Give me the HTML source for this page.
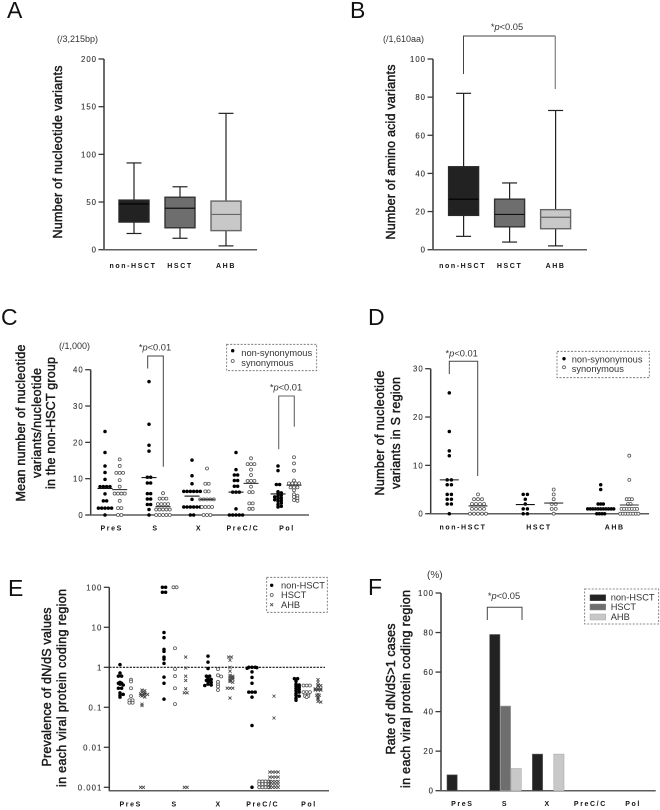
<!DOCTYPE html>
<html lang="en">
<head>
<meta charset="utf-8">
<title>Viral variant analysis figure</title>
<style>
  html, body { margin: 0; padding: 0; background: #fff; }
  svg { display: block; filter: blur(0.3px); }
  text { font-family: "Liberation Sans", sans-serif; }
  .letter { font-size: 23px; fill: #111; }
  .title { font-size: 12.5px; fill: #1a1a1a; stroke: #1a1a1a; stroke-width: 0.45px; text-anchor: middle; }
  .note { font-size: 9px; fill: #333; }
  .pval { font-size: 9.3px; fill: #333; text-anchor: middle; }
  .legend-text { font-size: 9.3px; fill: #333; }
  .legend-box { fill: none; stroke: #666; stroke-width: 0.8px; stroke-dasharray: 2 1.5; }
  .bracket { fill: none; stroke: #444; stroke-width: 1px; }
</style>
</head>
<body>
<svg id="fig" width="660" height="810" viewBox="0 0 660 810" xmlns="http://www.w3.org/2000/svg">
  <rect width="660" height="810" fill="#fff"/>

  <text class="letter" x="7" y="18">A</text>
  <text class="letter" x="350" y="18">B</text>
  <text class="letter" x="1" y="325">C</text>
  <text class="letter" x="368" y="325">D</text>
  <text class="letter" x="8" y="596">E</text>
  <text class="letter" x="368" y="595">F</text>

  <text class="note" x="57" y="42">(/3,215bp)</text>
  <text class="note" x="383" y="42">(/1,610aa)</text>
  <text class="note" x="59" y="349">(/1,000)</text>
  <text class="note" x="427" y="578" style="font-size:10px">(%)</text>

  <text class="title" transform="translate(62,152) rotate(-90)" textLength="173">Number of nucleotide variants</text>
  <text class="title" transform="translate(395,152) rotate(-90)" textLength="175">Number of amino acid variants</text>

  <text class="title" transform="translate(25,423) rotate(-90)" textLength="157">Mean number of nucleotide</text>
  <text class="title" transform="translate(41,423) rotate(-90)" textLength="110">variants/nucleotide</text>
  <text class="title" transform="translate(55,423) rotate(-90)" textLength="132">in the non-HSCT group</text>

  <text class="title" transform="translate(384,433) rotate(-90)" textLength="125">Number of nucleotide</text>
  <text class="title" transform="translate(400,433) rotate(-90)" textLength="112">variants in S region</text>

  <text class="title" transform="translate(51,687) rotate(-90)" textLength="159">Prevalence of dN/dS values</text>
  <text class="title" transform="translate(66,688) rotate(-90)" textLength="198">in each viral protein coding region</text>

  <text class="title" transform="translate(395,689) rotate(-90)" textLength="131">Rate of dN/dS&gt;1 cases</text>
  <text class="title" transform="translate(410,689) rotate(-90)" textLength="198">in each viral protein coding region</text>

  <path class="bracket" d="M463.5 74V36H555.3"/>
  <path d="M555.3 36V89" fill="none" stroke="#888" stroke-width="1.3"/>
  <text class="pval" x="507" y="30">*<tspan font-style="italic">p</tspan>&lt;0.05</text>

  <path class="bracket" d="M147.7 368.5V356H163.3V466.7"/>
  <text class="pval" x="155" y="350.3">*<tspan font-style="italic">p</tspan>&lt;0.01</text>
  <path d="M278.7 449.3V396H294.3V426.7" fill="none" stroke="#666" stroke-width="1.1"/>
  <text class="pval" x="286" y="390.7">*<tspan font-style="italic">p</tspan>&lt;0.01</text>

  <path class="bracket" d="M449.3 374V361.3H477.7V476"/>
  <text class="pval" x="461.7" y="356.7">*<tspan font-style="italic">p</tspan>&lt;0.01</text>

  <path class="bracket" d="M487.3 620V607.3H522V620"/>
  <text class="pval" x="504" y="599">*<tspan font-style="italic">p</tspan>&lt;0.05</text>

  <g>
    <rect class="legend-box" x="226.7" y="344.3" width="90" height="26.4"/>
    <circle cx="232.7" cy="350.7" r="1.7" fill="#000"/>
    <circle cx="232.7" cy="361" r="1.5" fill="#fff" stroke="#555" stroke-width="0.8"/>
    <text class="legend-text" x="241.3" y="356">non-synonymous</text>
    <text class="legend-text" x="241.3" y="366">synonymous</text>
  </g>
  <g>
    <rect class="legend-box" x="557" y="351.3" width="92.3" height="26.4"/>
    <circle cx="564" cy="358.7" r="1.7" fill="#000"/>
    <circle cx="564" cy="367.3" r="1.5" fill="#fff" stroke="#555" stroke-width="0.8"/>
    <text class="legend-text" x="571.7" y="362.3">non-synonymous</text>
    <text class="legend-text" x="571.7" y="372">synonymous</text>
  </g>
  <g>
    <rect class="legend-box" x="266.7" y="577.3" width="60.6" height="35"/>
    <circle cx="271.7" cy="585.3" r="1.7" fill="#000"/>
    <circle cx="271.7" cy="595" r="1.5" fill="#fff" stroke="#555" stroke-width="0.8"/>
    <path d="M270.2 603.2l3 3m0-3l-3 3" stroke="#444" stroke-width="0.8"/>
    <text class="legend-text" x="281" y="588.3">non-HSCT</text>
    <text class="legend-text" x="281" y="598">HSCT</text>
    <text class="legend-text" x="281" y="608">AHB</text>
  </g>
  <g>
    <rect class="legend-box" x="584.7" y="589" width="74" height="35"/>
    <rect x="590" y="594.7" width="15.7" height="6" fill="#222" stroke="#555" stroke-width="0.5"/>
    <rect x="590" y="604" width="15.7" height="6" fill="#6e6e6e" stroke="#888" stroke-width="0.5"/>
    <rect x="590" y="614" width="15.7" height="6" fill="#c8c8c8" stroke="#aaa" stroke-width="0.5"/>
    <text class="legend-text" x="610.7" y="600.7">non-HSCT</text>
    <text class="legend-text" x="610.7" y="610">HSCT</text>
    <text class="legend-text" x="610.7" y="620">AHB</text>
  </g>

  <g id="plots"></g>
</svg>

<script>
// ---------- Panels A and B: box plots ----------
const boxCategories = ['non-HSCT', 'HSCT', 'AHB'];
const ticksA = [0, 50, 100, 150, 200];
const aMin = [17, 12, 4];
const aQ1 = [29, 23, 20];
const aMedian = [48, 43.5, 37];
const aQ3 = [52, 55, 51];
const aMax = [91, 66, 143];

const ticksB = [0, 20, 40, 60, 80, 100];
const bMin = [7, 4, 2];
const bQ1 = [18, 12, 11];
const bMedian = [26.5, 18.5, 17];
const bQ3 = [43.5, 26.5, 21];
const bMax = [82, 35, 73];

// ---------- Panel C: variants per region ----------
const regions = ['PreS', 'S', 'X', 'PreC/C', 'Pol'];
const ticksC = [0, 10, 20, 30, 40];
const cNonPreS = [23, 17.2, 13.5, 11.7, 9.8, 7.8, 7.8, 7.8, 7.8, 5.8, 3.9, 3.9, 1.9, 1.9, 1.9, 1.9, 1.9, 0];
const cNonS = [36.7, 25, 19.2, 17.6, 10.4, 10.4, 8.8, 8.8, 5.9, 5.9, 4.4, 4.4, 2.9, 2.9, 1.5, 0];
const cNonX = [15.1, 10.8, 8.6, 6.5, 6.5, 6.5, 6.5, 6.5, 6.5, 4.3, 2.2, 2.2, 2.2, 2.2, 2.2, 2.2, 0, 0];
const cNonPreC = [17.2, 12.5, 11, 11, 9.5, 9.5, 7.9, 7.9, 6.3, 6.3, 6.3, 1.7, 0, 0, 0, 0, 0];
const cNonPol = [13.5, 12.2, 8.4, 8.4, 6.4, 6.1, 5.8, 5.5, 5.2, 5, 4.7, 4.5, 4.2, 4, 3.8, 3.3, 2.9, 2.4, 2.2];
const cSynPreS = [15.3, 13.5, 11.6, 11.6, 11.6, 9.6, 7.8, 5.9, 5.9, 5.9, 5.9, 3.9, 1.9, 1.9, 0, 0];
const cSynS = [6, 4.5, 4.5, 4.5, 3, 3, 3, 3, 1.5, 1.5, 1.5, 1.5, 1.5, 0, 0, 0, 0, 0];
const cSynX = [12.8, 8.6, 8.6, 6.5, 6.5, 4.3, 4.3, 4.3, 4.3, 4.3, 2.2, 2.2, 2.2, 2.2, 0, 0, 0];
const cSynPreC = [15.6, 14, 14, 14, 12.5, 11, 9.4, 9.4, 9.4, 7.8, 6.3, 6.3, 3.2, 3.2, 1.7, 1.7];
const cSynPol = [15.9, 14.2, 12.2, 9.5, 8.7, 8.7, 8.7, 8.7, 7.6, 7.6, 7.6, 6.8, 5.7, 5.3, 5, 4.6, 4.1, 3.9];
const cNonMeans = [7.3, 10.3, 5.2, 6.3, 5.8];
const cSynMeans = [7, 2.3, 4.3, 8.7, 8.2];

// ---------- Panel D: variants in S region ----------
const ticksD = [0, 10, 20, 30];
const dNonControl = [25, 17, 13, 12, 7, 7, 6, 6, 4, 4, 3, 3, 2, 2, 0];
const dSynControl = [4, 3, 3, 3, 2, 2, 2, 2, 1, 1, 1, 1, 0, 0, 0, 0, 0];
const dNonHsct = [4, 4, 3, 2, 1, 1, 0, 0];
const dSynHsct = [5, 4, 3, 2, 2, 1, 1, 0];
const dNonAhb = [6, 5, 2, 2, 2, 1, 1, 1, 1, 1, 1, 1, 1, 1, 1, 1, 0, 0, 0, 0];
const dSynAhb = [12, 7, 3, 3, 3, 2, 2, 1, 1, 1, 1, 1, 1, 1, 0, 0, 0, 0, 0, 0, 0, 0];
const dNonMeans = [7, 1.9, 1.1];
const dSynMeans = [1.6, 2.2, 1.8];

// ---------- Panel E: dN/dS values, log axis ----------
const ticksE = [100, 10, 1, 0.1, 0.01, 0.001];
const tickLabelsE = ['100', '10', '1', '0.1', '0.01', '0.001'];
const eNonPreS = [1.17, 0.72, 0.6, 0.6, 0.42, 0.4, 0.4, 0.38, 0.36, 0.3, 0.3, 0.23, 0.21, 0.2, 0.18];
const eHsctPreS = [0.49, 0.44, 0.3, 0.19, 0.15, 0.15, 0.13, 0.13];
const eAhbPreS = [0.27, 0.26, 0.24, 0.23, 0.22, 0.22, 0.21, 0.21, 0.2, 0.2, 0.19, 0.18, 0.12, 0.11, 0.001, 0.001];
const eNonS = [100, 100, 75, 75, 7.4, 5.5, 2.8, 2.5, 1.8, 1.6, 1.25, 0.57, 0.4, 0.16];
const eHsctS = [100, 100, 3, 0.9, 0.6, 0.3, 0.12];
const eAhbS = [1.8, 0.96, 0.6, 0.47, 0.29, 0.23, 0.23, 0.001, 0.001];
const eNonX = [1.9, 1.35, 0.93, 0.6, 0.6, 0.52, 0.5, 0.47, 0.47, 0.44, 0.42, 0.38, 0.36, 0.35];
const eHsctX = [0.9, 0.63, 0.59, 0.43, 0.37, 0.33, 0.27];
const eAhbX = [1.8, 1.8, 1.5, 1, 0.8, 0.63, 0.6, 0.57, 0.55, 0.52, 0.5, 0.47, 0.44, 0.42, 0.3, 0.3, 0.3, 0.17];
const eNonPreC = [1, 1, 1, 0.98, 0.95, 0.77, 0.56, 0.4, 0.24, 0.24, 0.24, 0.18, 0.035, 0.001];
const eHsctPreC = [0.0014, 0.0014, 0.0014, 0.0014, 0.0012, 0.0012, 0.0012, 0.0012, 0.001, 0.001, 0.001, 0.001];
const eAhbPreC = [0.19, 0.054, 0.0024, 0.0024, 0.0024, 0.0024, 0.0018, 0.0018, 0.0018, 0.0018, 0.0014, 0.0014, 0.0014, 0.0014, 0.0012, 0.0012, 0.0012, 0.0012, 0.001, 0.001, 0.001, 0.001];
const eNonPol = [0.52, 0.52, 0.45, 0.38, 0.36, 0.34, 0.32, 0.3, 0.28, 0.26, 0.24, 0.22, 0.2, 0.19, 0.17, 0.15];
const eHsctPol = [0.35, 0.35, 0.35, 0.24, 0.24, 0.24, 0.21, 0.21, 0.19, 0.19, 0.18];
const eAhbPol = [0.49, 0.42, 0.36, 0.35, 0.34, 0.29, 0.29, 0.29, 0.27, 0.27, 0.27, 0.21, 0.2, 0.2, 0.18, 0.17, 0.16, 0.14, 0.135];

// ---------- Panel F: rate of dN/dS>1, grouped bars ----------
const ticksF = [0, 20, 40, 60, 80, 100];
const fNon = [8, 79, 18.5, 0, 0];
const fHsct = [0, 42.8, 0, 0, 0];
const fAhb = [0, 11.2, 18.5, 0, 0];

// ---------- Drawing ----------
const SVG_NS = 'http://www.w3.org/2000/svg';
const root = document.getElementById('plots');

function mk(tag, attrs) {
  const el = document.createElementNS(SVG_NS, tag);
  for (const k in attrs) el.setAttribute(k, attrs[k]);
  root.appendChild(el);
  return el;
}

function linearScale(d0, d1, r0, r1) {
  return v => r0 + (v - d0) * (r1 - r0) / (d1 - d0);
}

function logScale(d0, d1, r0, r1) {
  return v => r0 + (Math.log10(v) - Math.log10(d0)) * (r1 - r0) / (Math.log10(d1) - Math.log10(d0));
}

function drawYAxis(x, yScale, ticks, labels, bottom) {
  const axisTop = yScale(ticks.reduce((a, b) => (yScale(a) < yScale(b) ? a : b)));
  const line = mk('line', { x1: x, x2: x, y1: axisTop, y2: bottom, stroke: '#3a3a3a', 'stroke-width': 1.5 });
  
  
  ticks.forEach((t, i) => {
    const tick = mk('line', { x1: x - 5.5, x2: x, y1: yScale(t), y2: yScale(t), stroke: '#3a3a3a', 'stroke-width': 1.3 });
    
    
    const lab = mk('text', { x: x - 7, y: yScale(t) + 3, 'text-anchor': 'end', 'font-size': 7.8, 'letter-spacing': 1, fill: '#333', stroke: '#333', 'stroke-width': 0.12 });
    lab.textContent = labels ? labels[i] : String(t);
    
    
  });
}

function drawXAxis(x0, x1, y) {
  const line = mk('line', { x1: x0 - 0.6, x2: x1, y1: y, y2: y, stroke: '#5c5c5c', 'stroke-width': 1.5 });
  
  
}

function drawCategoryLabel(text, cx, y) {
  const lab = mk('text', { x: cx, y: y, 'text-anchor': 'middle', 'font-size': 7, 'font-weight': 'bold', 'letter-spacing': 1.6, fill: '#111' });
  lab.textContent = text;
  
  
}

function drawBoxes(axisX, x1, yScale, ticks, mins, q1s, meds, q3s, maxs, firstCenter, pitch, labelShift) {
  const fills = ['#222222', '#6e6e6e', '#c8c8c8'];
  const strokes = ['#2a2a2a', '#333', '#666'];
  const medianColors = ['#000', '#111', '#666'];
  drawYAxis(axisX, yScale, ticks, null, yScale(0));
  drawXAxis(axisX, x1, yScale(0));
  boxCategories.forEach((cat, i) => {
    const cx = firstCenter + i * pitch;
    const w = mk('line', { x1: cx, x2: cx, y1: yScale(maxs[i]), y2: yScale(mins[i]), stroke: '#222', 'stroke-width': 1.2 });
    
    
    [mins[i], maxs[i]].forEach(v => {
      const cap = mk('line', { x1: cx - 7.5, x2: cx + 7.5, y1: yScale(v), y2: yScale(v), stroke: '#222', 'stroke-width': 1.2 });
      
      
    });
    const box = mk('rect', { x: cx - 15, y: yScale(q3s[i]), width: 30, height: yScale(q1s[i]) - yScale(q3s[i]), fill: fills[i], stroke: strokes[i], 'stroke-width': 1.4 });
    
    
    const med = mk('line', { x1: cx - 15, x2: cx + 15, y1: yScale(meds[i]), y2: yScale(meds[i]), stroke: medianColors[i], 'stroke-width': 1.2 });
    
    
    drawCategoryLabel(cat, cx + labelShift[i], 268);
  });
}

function swarm(values, yScale, d, collide) {
  const rowsMap = new Map();
  values.forEach(v => rowsMap.set(v, (rowsMap.get(v) || 0) + 1));
  const rows = Array.from(rowsMap.keys()).sort((a, b) => b - a);
  const placed = [];
  const shifts = [0, 1, -1, 1.5, -1.5, 2, -2, 2.5, -2.5];
  rows.forEach(v => {
    const n = rowsMap.get(v);
    const y = yScale(v);
    let best = 0;
    for (const s of shifts) {
      let ok = true;
      for (let k = 0; k < n && ok; k++) {
        const ox = (k - (n - 1) / 2 + s) * d;
        for (const p of placed) {
          if (Math.hypot(p.dx - ox, p.y - y) < d * collide) { ok = false; break; }
        }
      }
      if (ok) { best = s; break; }
    }
    for (let k = 0; k < n; k++) placed.push({ dx: (k - (n - 1) / 2 + best) * d, y: y });
  });
  return placed;
}

function drawMarks(kind, values, cx, yScale, d, collide) {
  swarm(values, yScale, d, collide).forEach(p => {
    const x = cx + p.dx;
    if (kind === 'filled') {
      const c = mk('circle', { cx: x, cy: p.y, r: 1.75, fill: '#000' });
      
      
    } else if (kind === 'open') {
      const c = mk('circle', { cx: x, cy: p.y, r: 1.5, fill: '#fff', stroke: '#555', 'stroke-width': 0.8 });
      
      
    } else {
      const m = mk('path', { d: 'M' + (x - 1.5) + ' ' + (p.y - 1.5) + 'l3 3m0-3l-3 3', stroke: '#444', 'stroke-width': 0.8, fill: 'none' });
      
      
    }
  });
}

function drawMean(cx, v, yScale, halfWidth, color) {
  const l = mk('line', { x1: cx - halfWidth, x2: cx + halfWidth, y1: yScale(v), y2: yScale(v), stroke: color, 'stroke-width': 1.1 });
  
  
}

// Panel A
drawBoxes(104, 257, linearScale(0, 200, 249.7, 59), ticksA, aMin, aQ1, aMedian, aQ3, aMax, 134, 46, [-1, 0, 0]);
// Panel B
drawBoxes(433, 587, linearScale(0, 100, 249.7, 59), ticksB, bMin, bQ1, bMedian, bQ3, bMax, 463.6, 46, [-1, 0, 0]);

// Panel C
(function () {
  const y = linearScale(0, 40, 515, 369.7);
  drawYAxis(90.7, y, ticksC, null, 515);
  drawXAxis(90.7, 309, 515);
  const nonCenters = [105, 149, 192, 236, 278];
  const synCenters = [119.7, 163, 207, 251, 294];
  const labelCenters = [111.7, 155.5, 199, 243, 287];
  const nonSets = [cNonPreS, cNonS, cNonX, cNonPreC, cNonPol];
  const synSets = [cSynPreS, cSynS, cSynX, cSynPreC, cSynPol];
  regions.forEach((r, i) => {
    drawMarks('filled', nonSets[i], nonCenters[i], y, 3.3, 0.6);
    drawMarks('open', synSets[i], synCenters[i], y, 3.4, 0.6);
    drawMean(nonCenters[i], cNonMeans[i], y, 7.5, '#111');
    drawMean(synCenters[i], cSynMeans[i], y, 7.5, '#333');
    drawCategoryLabel(r, labelCenters[i], 530.7);
  });
})();

// Panel D
(function () {
  const y = linearScale(0, 30, 513.7, 368.7);
  drawYAxis(430.7, y, ticksD, null, 513.7);
  drawXAxis(430.7, 649, 513.7);
  const nonCenters = [449.3, 525.3, 600.7];
  const synCenters = [478, 553.7, 629.3];
  const labelCenters = [463, 539, 614.7];
  const nonSets = [dNonControl, dNonHsct, dNonAhb];
  const synSets = [dSynControl, dSynHsct, dSynAhb];
  boxCategories.forEach((c, i) => {
    drawMarks('filled', nonSets[i], nonCenters[i], y, i === 2 ? 2.6 : 4.2, 0.6);
    drawMarks('open', synSets[i], synCenters[i], y, i === 2 ? 2.6 : 4, 0.6);
    drawMean(nonCenters[i], dNonMeans[i], y, 9.5, '#111');
    drawMean(synCenters[i], dSynMeans[i], y, 9.5, '#333');
    drawCategoryLabel(c, labelCenters[i], 529.3);
  });
})();

// Panel E
(function () {
  const y = logScale(100, 0.001, 587.3, 787.3);
  drawYAxis(109.3, y, ticksE, tickLabelsE, 790.7);
  drawXAxis(109.3, 329, 790.7);
  const ref = mk('line', { x1: 109.3, x2: 325, y1: y(1), y2: y(1), stroke: '#111', 'stroke-width': 1.1, 'stroke-dasharray': '2.2 1.2' });
  
  
  const nonCenters = [120, 164, 208, 252, 296];
  const hsctCenters = [131, 175, 218, 264, 306.7];
  const ahbCenters = [142, 185.7, 230, 274, 318];
  const labelCenters = [130.7, 174.7, 218.7, 262.7, 309];
  const nonSets = [eNonPreS, eNonS, eNonX, eNonPreC, eNonPol];
  const hsctSets = [eHsctPreS, eHsctS, eHsctX, eHsctPreC, eHsctPol];
  const ahbSets = [eAhbPreS, eAhbS, eAhbX, eAhbPreC, eAhbPol];
  regions.forEach((r, i) => {
    drawMarks('filled', nonSets[i], nonCenters[i], y, 3.2, 0.5);
    drawMarks('open', hsctSets[i], hsctCenters[i], y, 3.2, 0.5);
    drawMarks('cross', ahbSets[i], ahbCenters[i], y, 2.8, 0.35);
    drawCategoryLabel(r, labelCenters[i], 806.7);
  });
})();

// Panel F
(function () {
  const y = linearScale(0, 100, 790.7, 593);
  drawYAxis(441, y, ticksF, null, 790.7);
  drawXAxis(441, 655.7, 790.7);
  const series = [fNon, fHsct, fAhb];
  const fills = ['#222222', '#6e6e6e', '#c8c8c8'];
  const strokes = ['#555', '#999', '#aaa'];
  regions.forEach((r, i) => {
    const start = 446.7 + 42.7 * i;
    series.forEach((vals, s) => {
      if (vals[i] > 0) {
        const bar = mk('rect', { x: start + s * 10.7 + 0.3, y: y(vals[i]), width: 10.2, height: y(0) - y(vals[i]), fill: fills[s], stroke: strokes[s], 'stroke-width': 0.6 });
        
        
      }
    });
    drawCategoryLabel(r, start + 15.6, 806);
  });
})();
</script>
</body>
</html>
